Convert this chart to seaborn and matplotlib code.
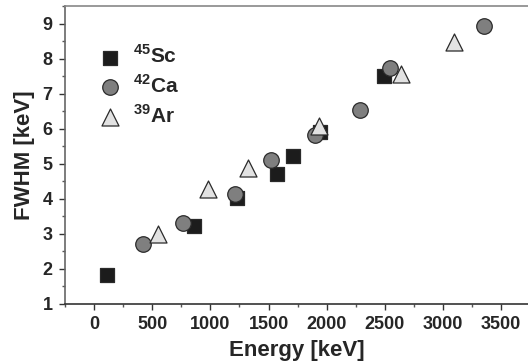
import matplotlib
matplotlib.use("Agg")
import matplotlib.pyplot as plt
from matplotlib.ticker import MultipleLocator
import seaborn as sns
import pandas as pd

sc_energy = [110, 856, 1227, 1572, 1713, 1940, 2494]
sc_fwhm = [1.83, 3.21, 4.02, 4.72, 5.23, 5.90, 7.49]
ca_energy = [425, 764, 1213, 1517, 1902, 2287, 2540, 3348]
ca_fwhm = [2.72, 3.32, 4.13, 5.11, 5.81, 6.52, 7.72, 8.92]
ar_energy = [546, 983, 1322, 1931, 2635, 3095]
ar_fwhm = [2.99, 4.28, 4.88, 6.07, 7.57, 8.47]
labels = [r"$^{\mathbf{45}}$Sc", r"$^{\mathbf{42}}$Ca", r"$^{\mathbf{39}}$Ar"]

df = pd.concat([
    pd.DataFrame({"Energy": sc_energy, "FWHM": sc_fwhm, "iso": labels[0]}),
    pd.DataFrame({"Energy": ca_energy, "FWHM": ca_fwhm, "iso": labels[1]}),
    pd.DataFrame({"Energy": ar_energy, "FWHM": ar_fwhm, "iso": labels[2]}),
])

sns.set_style("white")
plt.rcParams["font.family"] = ["Liberation Sans", "DejaVu Sans"]
plt.rcParams["mathtext.fontset"] = "custom"
plt.rcParams["mathtext.rm"] = "Liberation Sans:bold"
plt.rcParams["mathtext.bf"] = "Liberation Sans:bold"

fig = plt.figure(figsize=(5.28, 3.64), dpi=100)
ax = fig.add_axes([0.123, 0.165, 0.877, 0.8185])

palette = {labels[0]: "#1c1c1c", labels[1]: "#7f7f7f", labels[2]: "#e2e2e2"}
markers = {labels[0]: "s", labels[1]: "o", labels[2]: "^"}
sizes_pt = {labels[0]: 100, labels[1]: 125, labels[2]: 150}

for lab in labels:
    sub = df[df["iso"] == lab]
    sns.scatterplot(data=sub, x="Energy", y="FWHM", ax=ax, marker=markers[lab],
                    color=palette[lab], edgecolor="#2a2a2a", linewidth=0.9,
                    s=sizes_pt[lab], label=lab, zorder=3)

ax.set_xlim(-250, 3730)
ax.set_ylim(1, 9.5)
ax.xaxis.set_major_locator(MultipleLocator(500))
ax.xaxis.set_minor_locator(MultipleLocator(250))
ax.yaxis.set_major_locator(MultipleLocator(1))
ax.yaxis.set_minor_locator(MultipleLocator(0.5))
ax.tick_params(which="major", direction="out", length=4, width=1, color="#333333",
               labelsize=13, pad=5, bottom=True, left=True)
ax.tick_params(which="minor", direction="out", length=2.5, width=1, color="#555555",
               bottom=True, left=True)
for t in ax.get_xticklabels() + ax.get_yticklabels():
    t.set_fontweight("bold")

ax.set_xlabel("Energy [keV]", fontsize=16, fontweight="bold", labelpad=5)
ax.set_ylabel("FWHM [keV]", fontsize=16, fontweight="bold", labelpad=5)

for name in ["left", "bottom", "top"]:
    ax.spines[name].set_visible(True)
    ax.spines[name].set_linewidth(1.2)
ax.spines["left"].set_color("#666666")
ax.spines["bottom"].set_color("#333333")
ax.spines["top"].set_color("#888888")
ax.spines["right"].set_visible(False)

leg = ax.legend(loc="upper left", bbox_to_anchor=(0.02, 0.92), frameon=False,
                fontsize=15, handletextpad=0.1, labelspacing=0.35, borderpad=0.2)
for t in leg.get_texts():
    t.set_fontweight("bold")

fig.savefig("out.png", dpi=100)
